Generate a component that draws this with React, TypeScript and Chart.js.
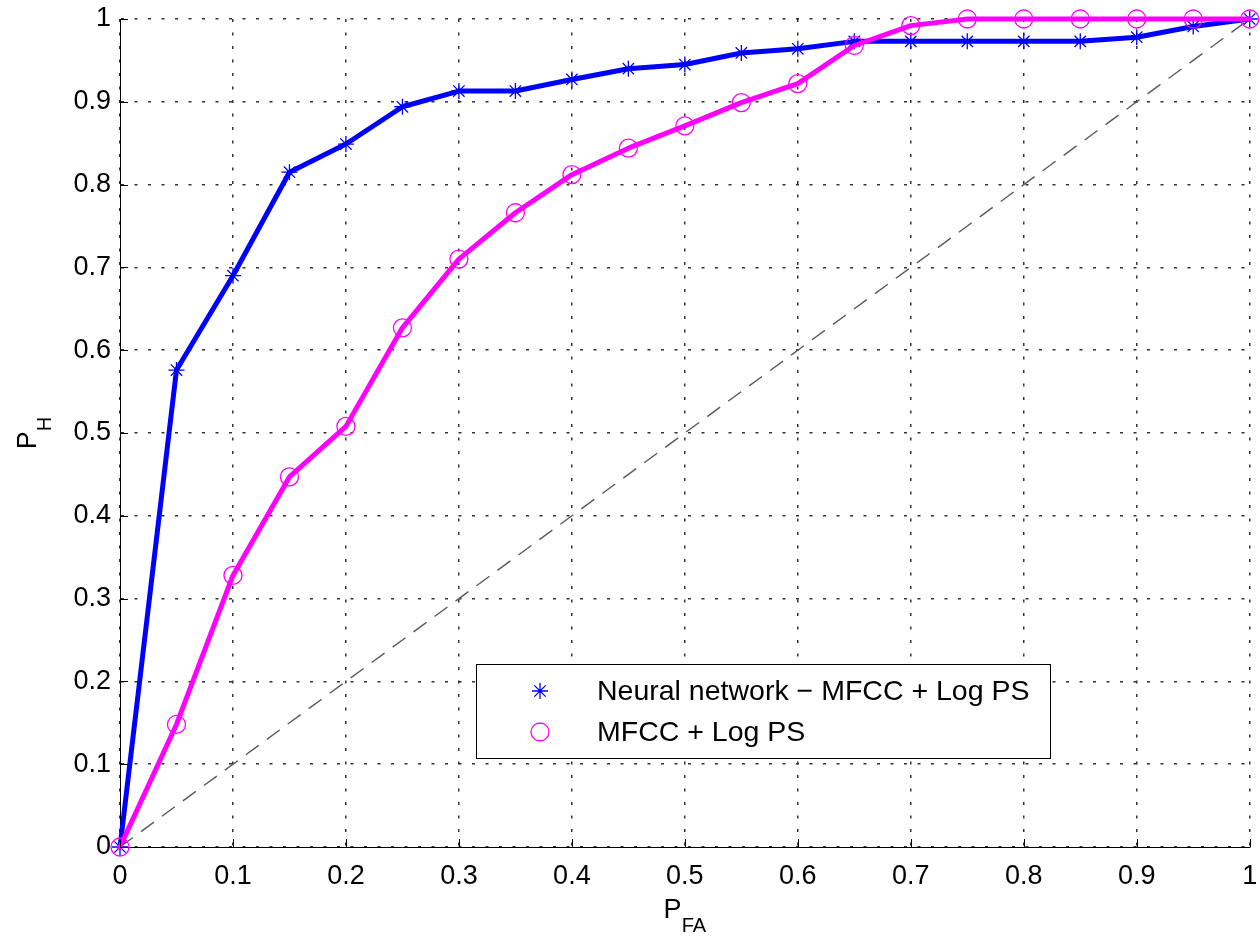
import React, { useEffect, useRef } from 'react';
import { Chart, registerables } from 'chart.js';

Chart.register(...registerables);

// ---- data ----
const pfa = [0, 0.05, 0.1, 0.15, 0.2, 0.25, 0.3, 0.35, 0.4, 0.45, 0.5, 0.55, 0.6, 0.65, 0.7, 0.75, 0.8, 0.85, 0.9, 0.95, 1];
const nnHit = [0, 0.576, 0.69, 0.815, 0.849, 0.894, 0.913, 0.913, 0.927, 0.94, 0.945, 0.959, 0.964, 0.973, 0.973, 0.973, 0.973, 0.973, 0.978, 0.991, 1];
const mfccHit = [0, 0.148, 0.328, 0.447, 0.508, 0.627, 0.71, 0.766, 0.812, 0.844, 0.871, 0.899, 0.922, 0.968, 0.992, 1, 1, 1, 1, 1, 1];
const chanceX = [0, 1];
const chanceY = [0, 1];
const tickLabels = ['0', '0.1', '0.2', '0.3', '0.4', '0.5', '0.6', '0.7', '0.8', '0.9', '1'];
const legendLabels = ['Neural network \u2212 MFCC + Log PS', 'MFCC + Log PS'];
const xTitle = ['P', 'FA'];
const yTitle = ['P', 'H'];

const FONT = '"Liberation Sans", Arial, Helvetica, sans-serif';
const BLUE = '#0000ff';
const MAGENTA = '#ff00ff';

function drawStar(ctx: CanvasRenderingContext2D, x: number, y: number, r: number, color: string) {
  ctx.save();
  ctx.strokeStyle = color;
  ctx.lineWidth = 1.3;
  ctx.beginPath();
  ctx.moveTo(x - r, y); ctx.lineTo(x + r, y);
  ctx.moveTo(x, y - r); ctx.lineTo(x, y + r);
  const d = r * Math.SQRT1_2;
  ctx.moveTo(x - d, y - d); ctx.lineTo(x + d, y + d);
  ctx.moveTo(x - d, y + d); ctx.lineTo(x + d, y - d);
  ctx.stroke();
  ctx.restore();
}

function drawCircle(ctx: CanvasRenderingContext2D, x: number, y: number, r: number, color: string) {
  ctx.save();
  ctx.strokeStyle = color;
  ctx.lineWidth = 1.3;
  ctx.beginPath();
  ctx.arc(x, y, r, 0, Math.PI * 2);
  ctx.stroke();
  ctx.restore();
}

const overlayPlugin = {
  id: 'overlay',
  afterDraw(chart: any) {
    const ctx: CanvasRenderingContext2D = chart.ctx;
    const { left, right, top, bottom } = chart.chartArea;
    const xs = chart.scales.x;
    const ys = chart.scales.y;
    ctx.save();
    // inward ticks
    ctx.strokeStyle = '#000';
    ctx.lineWidth = 1;
    ctx.beginPath();
    xs.ticks.forEach((t: any) => {
      const p = Math.round(xs.getPixelForValue(t.value)) + 0.5;
      ctx.moveTo(p, bottom);
      ctx.lineTo(p, bottom - 8);
    });
    ys.ticks.forEach((t: any) => {
      const p = Math.round(ys.getPixelForValue(t.value)) + 0.5;
      ctx.moveTo(left, p);
      ctx.lineTo(left + 8, p);
    });
    ctx.stroke();

    // axis titles
    ctx.fillStyle = '#000';
    ctx.textBaseline = 'alphabetic';
    ctx.textAlign = 'left';
    const bigFont = `27px ${FONT}`;
    const smallFont = `20px ${FONT}`;
    ctx.font = bigFont;
    const wPx = ctx.measureText(xTitle[0]).width;
    ctx.font = smallFont;
    const wSx = ctx.measureText(xTitle[1]).width;
    const cx = (left + right) / 2;
    const x0 = cx - (wPx + wSx) / 2;
    ctx.font = bigFont;
    ctx.fillText(xTitle[0], x0, 918);
    ctx.font = smallFont;
    ctx.fillText(xTitle[1], x0 + wPx, 932);

    ctx.font = bigFont;
    const wPy = ctx.measureText(yTitle[0]).width;
    ctx.font = smallFont;
    const wSy = ctx.measureText(yTitle[1]).width;
    const cy = (top + bottom) / 2;
    ctx.save();
    ctx.translate(36, cy);
    ctx.rotate(-Math.PI / 2);
    const y0 = -(wPy + wSy) / 2;
    ctx.font = bigFont;
    ctx.fillText(yTitle[0], y0, 0);
    ctx.font = smallFont;
    ctx.fillText(yTitle[1], y0 + wPy, 15);
    ctx.restore();

    // legend
    const bx = 476.5, by = 664.5, bw = 574, bh = 94;
    ctx.fillStyle = '#fff';
    ctx.fillRect(bx, by, bw, bh);
    ctx.strokeStyle = '#000';
    ctx.lineWidth = 1;
    ctx.strokeRect(bx, by, bw, bh);
    drawStar(ctx, 540, 691, 8, BLUE);
    drawCircle(ctx, 540, 732, 9, MAGENTA);
    ctx.fillStyle = '#000';
    ctx.font = `28.5px ${FONT}`;
    ctx.textBaseline = 'middle';
    ctx.fillText(legendLabels[0], 597, 692);
    ctx.fillText(legendLabels[1], 597, 733);
    ctx.restore();
  },
};

export default function App() {
  const ref = useRef<HTMLCanvasElement | null>(null);

  useEffect(() => {
    if (!ref.current) return;
    const tickFont = { family: FONT, size: 27 };
    const chart = new Chart(ref.current, {
      type: 'line',
      data: {
        datasets: [
          {
            label: 'chance',
            data: chanceX.map((x, i) => ({ x, y: chanceY[i] })),
            borderColor: '#5a5a5a',
            borderWidth: 1.4,
            borderDash: [16, 10],
            pointRadius: 0,
            fill: false,
            order: 3,
          },
          {
            label: legendLabels[0],
            data: pfa.map((x, i) => ({ x, y: nnHit[i] })),
            borderColor: BLUE,
            borderWidth: 5,
            pointStyle: 'star',
            pointRadius: 8,
            pointBorderWidth: 1.3,
            pointBorderColor: BLUE,
            pointBackgroundColor: BLUE,
            tension: 0,
            borderJoinStyle: 'round',
            borderCapStyle: 'round',
            fill: false,
            clip: false,
            order: 2,
          },
          {
            label: legendLabels[1],
            data: pfa.map((x, i) => ({ x, y: mfccHit[i] })),
            borderColor: MAGENTA,
            borderWidth: 5,
            pointStyle: 'circle',
            pointRadius: 9,
            pointBorderWidth: 1.3,
            pointBorderColor: MAGENTA,
            pointBackgroundColor: 'rgba(0,0,0,0)',
            tension: 0,
            borderJoinStyle: 'round',
            borderCapStyle: 'round',
            fill: false,
            clip: false,
            order: 1,
          },
        ],
      },
      options: {
        responsive: false,
        animation: false,
        events: [],
        layout: { padding: { top: 19, right: 6, left: 0, bottom: 0 } },
        plugins: { legend: { display: false }, tooltip: { enabled: false }, title: { display: false } },
        scales: {
          x: {
            type: 'linear',
            min: 0,
            max: 1,
            ticks: {
              stepSize: 0.1,
              padding: 13,
              color: '#000',
              font: tickFont,
              maxRotation: 0,
              autoSkip: false,
              callback: (_v: any, i: number) => tickLabels[i],
            },
            grid: { color: '#333', lineWidth: 1.5, drawTicks: false },
            border: { display: true, color: '#000', width: 1, dash: [3, 10.5] },
            afterFit: (s: any) => {
              s.height = 89;
              s.paddingLeft = 0;
              s.paddingRight = 0;
              s.paddingTop = 0;
              s.paddingBottom = 0;
            },
          },
          y: {
            type: 'linear',
            min: 0,
            max: 1,
            ticks: {
              stepSize: 0.1,
              padding: 9,
              color: '#000',
              font: tickFont,
              autoSkip: false,
              callback: (_v: any, i: number) => tickLabels[i],
            },
            grid: { color: '#333', lineWidth: 1.5, drawTicks: false },
            border: { display: true, color: '#000', width: 1, dash: [3, 10.5] },
            afterFit: (s: any) => {
              s.width = 120;
              s.paddingLeft = 0;
              s.paddingRight = 0;
              s.paddingTop = 0;
              s.paddingBottom = 0;
            },
          },
        },
      },
      plugins: [overlayPlugin],
    } as any);
    return () => chart.destroy();
  }, []);

  return (
    <div style={{ position: 'absolute', left: 0, top: 0, width: 1260, height: 936, background: '#fff' }}>
      <canvas ref={ref} width={1260} height={936} style={{ display: 'block', width: 1260, height: 936 }} />
    </div>
  );
}
